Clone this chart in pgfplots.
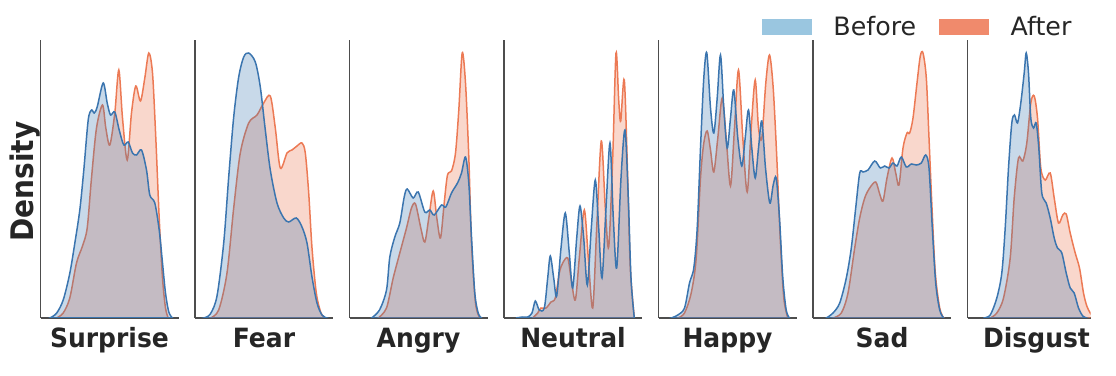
\documentclass[border=0pt]{standalone}
\usepackage{pgfplots}
\pgfplotsset{compat=1.18}
\usepackage{fontspec}
\setmainfont{DejaVu Sans}
\definecolor{bline}{HTML}{3B75AF}
\definecolor{oline}{HTML}{EC7A55}
\definecolor{legb}{HTML}{9AC6E0}
\definecolor{lego}{HTML}{F08A6C}
\definecolor{spine}{HTML}{4D4D4D}
\definecolor{txt}{HTML}{262626}
\pgfplotsset{
  panel/.style={scale only axis, width=138bp, height=278bp, anchor=south west,
    xmin=0, xmax=138, ymin=0, ymax=278,
    axis x line*=bottom, axis y line*=left, xtick=\empty, ytick=\empty,
    axis line style={spine, line width=1.25bp, -},
    every axis x label/.style={at={(axis description cs:0.5,0)}, anchor=base, yshift=-29bp,
      font=\fontsize{25bp}{30bp}\selectfont\bfseries, text=txt, yscale=1.06}},
  aft/.style={draw=oline, line width=1.5bp, fill=oline, fill opacity=0.3, smooth, forget plot},
  bef/.style={draw=bline, line width=1.5bp, fill=bline, fill opacity=0.28, smooth, forget plot},
}
\begin{document}
\begin{tikzpicture}
\path[use as bounding box] (0,0) rectangle (1116bp,376bp);
% Surprise
\begin{axis}[panel, at={(40.5bp,58bp)}, xlabel={Surprise}, ylabel={Density},
  every axis y label/.style={at={(axis description cs:-0.0543,0.491)}, rotate=90, yscale=1.11, anchor=base,
    font=\fontsize{28bp}{32bp}\selectfont\bfseries, text=txt}]
\addplot[aft] coordinates {(16,0)(22.7,5)(29.3,20)(36,55)(42,72)(46.7,90)(51,140)(56,190)(62,213)(65.3,190)(69.3,173)(74.3,205)(78.3,248)(82,200)(86.7,158)(91,205)(95.3,232)(100,217)(104.3,240)(108.3,265)(112,245)(115.3,180)(118.7,100)(122,40)(125,10)(127.7,0)} \closedcycle;
\addplot[bef] coordinates {(9.3,0)(16,4.7)(22.7,18)(29.3,44.7)(34.3,74.7)(39.3,108)(43.3,148)(47.7,198)(51,208)(53.7,205)(56.7,211)(62.7,235)(66.7,215)(70,203)(74.3,206)(78.7,188)(83.3,173)(87.7,176)(92,165)(96,163)(101,168)(106,148)(109.3,123)(114.3,115)(118.7,88)(122,55)(125,25)(128.3,6)(132,0)} \closedcycle;
\end{axis}
% Fear
\begin{axis}[panel, at={(195bp,58bp)}, xlabel={Fear}]
\addplot[aft] coordinates {(15.3,0)(23.7,8)(32,45)(38.7,110)(45.3,165)(53.7,195)(62,203)(68.7,215)(75.3,222)(80.3,190)(85.3,150)(92,165)(97,168)(102,172)(107,175)(110.3,165)(113.7,125)(117,70)(121.3,25)(126,5)(130.3,0)} \closedcycle;
\addplot[bef] coordinates {(8.7,0)(15.3,4)(22,22)(28.7,75)(33.7,141)(38.7,201)(43.7,241)(48.7,261)(53.7,265)(60.3,256)(65.3,231)(70.3,188)(75.3,148)(82,115)(88.7,100)(93.7,96)(101.3,100)(107,91)(112,75)(117,41)(122,15)(127,3)(132,0)} \closedcycle;
\end{axis}
% Angry
\begin{axis}[panel, at={(349.5bp,58bp)}, xlabel={Angry}]
\addplot[aft] coordinates {(28.7,0)(37,10)(43.7,40)(50.3,65)(57,90)(62,110)(66,114)(71.3,90)(75.3,76)(79.3,100)(83.7,127)(87.3,100)(91,80)(94.7,115)(98,143)(102,147)(106,165)(109.3,208)(112.7,265)(116,235)(119.3,161)(122,75)(126,15)(130.3,0)} \closedcycle;
\addplot[bef] coordinates {(22,0)(30,8)(37,28)(40.3,61)(45.3,81)(50.3,95)(54.7,121)(57.7,129)(63.7,120)(68.7,126)(75.3,106)(80.3,108)(84.7,103)(92,113)(96.3,111)(102,125)(108,135)(112,145)(116,161)(119.3,135)(122,81)(125.3,25)(128.7,5)(132,0)} \closedcycle;
\end{axis}
% Neutral
\begin{axis}[panel, at={(504bp,58bp)}, xlabel={Neutral}]
\addplot[aft] coordinates {(28.7,0)(33.7,5)(37,10)(42,10)(47,16)(51.3,20)(55.3,45)(58.7,55)(63.7,60)(67,40)(71.3,18)(75.3,60)(80.3,108)(84.3,60)(88.7,10)(92.7,90)(97.3,177)(101.3,110)(104.7,71)(108.7,160)(112,265)(114.7,218)(116.7,197)(120.3,238)(123.7,140)(126.3,50)(130.3,0)} \closedcycle;
\addplot[bef] coordinates {(12,0)(18.7,1)(23.7,1)(28,5)(31.3,17)(35.3,8)(40.3,10)(43.7,40)(46.3,62)(49.7,40)(52.7,22)(57,70)(61.3,105)(65.3,65)(68.7,30)(72.7,80)(76,112)(79.7,80)(83.3,33)(87.3,90)(91.3,138)(94.7,90)(98,40)(102,110)(106,175)(109.3,100)(112.7,50)(117,140)(121,188)(124.3,120)(127,40)(130.3,0)} \closedcycle;
\end{axis}
% Happy
\begin{axis}[panel, at={(658.5bp,58bp)}, xlabel={Happy}]
\addplot[aft] coordinates {(19.3,0)(26,5)(32.7,25)(37.7,60)(42,140)(45.3,175)(48.7,187)(52,168)(55.3,146)(59.3,180)(63.7,220)(67.7,180)(72,132)(76,190)(80,248)(84.3,180)(88.7,126)(92.7,190)(96.7,238)(100,190)(103.3,180)(107.3,235)(111,263)(114.7,230)(118.3,160)(121.7,80)(125.3,20)(129.3,0)} \closedcycle;
\addplot[bef] coordinates {(12.7,0)(19.3,3)(26,10)(31,35)(35.3,50)(38.7,90)(42,170)(45.3,240)(48.3,265)(52,210)(55.3,185)(58.7,220)(62,263)(65.3,210)(68.7,170)(72,200)(75.3,228)(79.3,180)(83.3,152)(86.7,180)(90,208)(93.3,170)(96.7,140)(100,170)(103.3,197)(107,150)(111.3,115)(114.7,133)(117.7,140)(121,100)(124.3,40)(127.7,8)(131,0)} \closedcycle;
\end{axis}
% Sad
\begin{axis}[panel, at={(813bp,58bp)}, xlabel={Sad}]
\addplot[aft] coordinates {(20,0)(28.3,5)(35,25)(41.7,70)(46.7,100)(51.7,120)(56.7,130)(62.7,136)(66.7,124)(70,117)(74,140)(79,160)(82.7,145)(86,133)(90,170)(94,185)(96.7,185)(100,200)(104,235)(107.3,262)(110,265)(113.3,240)(116,180)(119,110)(122.3,45)(126.7,10)(130.7,0)} \closedcycle;
\addplot[bef] coordinates {(13.3,0)(20,5)(26.7,15)(33.3,40)(38.3,70)(42.7,110)(46.7,145)(50,146)(55,148)(61.7,157)(67.3,150)(71.7,152)(76,150)(80,155)(84,152)(88.3,161)(93.3,151)(98.3,154)(103.3,153)(108.3,155)(112.7,163)(116,150)(119.3,90)(122.7,35)(126.7,8)(130.7,0)} \closedcycle;
\end{axis}
% Disgust
\begin{axis}[panel, at={(967.5bp,58bp)}, width=123bp, xmax=123, xlabel={Disgust},
  every axis x label/.append style={at={(axis description cs:0.561,0)}},
  legend style={draw=none, fill=none, inner sep=0pt, outer sep=0pt,
    at={(axis description cs:-1.671,1.0468)}, anchor=west, legend columns=2,
    font=\fontsize{25.3bp}{28bp}\selectfont, text=txt, nodes={inner sep=0pt},
    /tikz/every odd column/.style={column sep=21.5bp},
    /tikz/every even column/.style={column sep=23bp}},
  legend image code/.code={\fill[#1] (0bp,-8bp) rectangle (50bp,8bp);}]
\addlegendimage{fill=legb, draw=none}
\addlegendentry{Before}
\addlegendimage{fill=lego, draw=none}
\addlegendentry{After}
\addplot[aft] coordinates {(22.7,0)(29.3,5)(36,20)(42.7,60)(46.7,120)(51,160)(55.3,157)(59.3,175)(63.3,215)(66.7,222)(70,200)(73.3,150)(77.7,138)(82.7,145)(86.7,120)(91,95)(95.3,103)(98.7,104)(102.7,85)(107.7,65)(112,50)(116,25)(119.3,12)(122.7,5)(126,1)} \closedcycle;
\addplot[bef] coordinates {(16,0)(22.7,3)(29.3,20)(34.3,45)(37.7,90)(41,150)(44.3,195)(47,203)(50,195)(53.3,215)(56.7,245)(58.7,265)(61,245)(63.3,200)(66,190)(68.7,195)(71.3,170)(74.3,125)(78.7,115)(82.7,100)(86.7,80)(90,70)(94.3,65)(98.7,45)(102.7,30)(106.7,25)(111,10)(115.3,2)(119.3,0)} \closedcycle;
\end{axis}
\end{tikzpicture}
\end{document}
